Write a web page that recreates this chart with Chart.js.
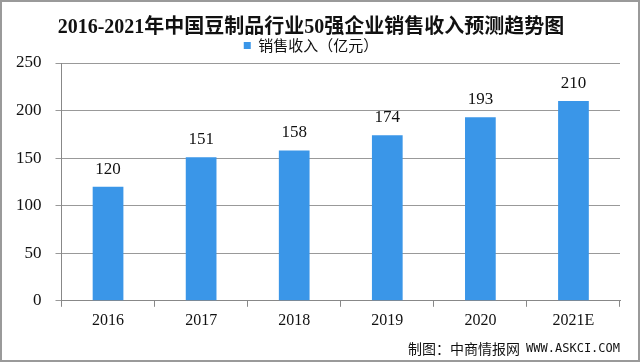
<!DOCTYPE html>
<html>
<head>
<meta charset="utf-8">
<script src="https://cdn.jsdelivr.net/npm/chart.js@4"></script>
<style>
  html, body { margin: 0; padding: 0; background: #fff; }
  #wrap { position: relative; width: 636px; height: 358px; border: 2px solid #9a9a9a; }
</style>
</head>
<body>
<div id="wrap"><canvas id="c" width="636" height="358"></canvas></div>
<script>
// 数据
const years = ["2016", "2017", "2018", "2019", "2020", "2021E"];
const revenue = [120, 151, 158, 174, 193, 210];
const yTicks = [0, 50, 100, 150, 200, 250];
const titleText = "2016-2021年中国豆制品行业50强企业销售收入预测趋势图";
const seriesName = "销售收入（亿元）";
const sourceText = "制图：中商情报网";
const sourceUrl = "WWW.ASKCI.COM";

const SERIF = "'Liberation Serif', 'Noto Sans CJK SC', serif";
const BLUE = "#3a96e8";

// 柱顶数值 + 右下角来源
const labelsPlg = {
  id: "labelsPlg",
  afterDatasetsDraw(ch) {
    const ctx = ch.ctx, meta = ch.getDatasetMeta(0);
    ctx.save();
    ctx.font = "17px " + SERIF; ctx.fillStyle = "#111";
    ctx.textAlign = "center"; ctx.textBaseline = "bottom";
    meta.data.forEach((b, i) => ctx.fillText(revenue[i], b.x, b.y - 9));
    ctx.textAlign = "right"; ctx.textBaseline = "middle";
    ctx.font = "12px 'DejaVu Sans Mono', monospace";
    const uw = ctx.measureText(sourceUrl).width;
    ctx.fillText(sourceUrl, 618, 347);
    ctx.font = "14px 'Noto Sans CJK SC', sans-serif";
    ctx.fillText(sourceText, 618 - uw - 6, 347);
    ctx.restore();
  }
};

new Chart(document.getElementById("c"), {
  type: "bar",
  data: { labels: years, datasets: [{ label: seriesName, data: revenue, backgroundColor: BLUE, barPercentage: 0.66, categoryPercentage: 0.5 }] },
  options: {
    responsive: false, animation: false,
    layout: { padding: { left: 0, right: 18, top: 0, bottom: 26 } },
    plugins: {
      title: { display: true, text: titleText, color: "#111", font: { family: SERIF, size: 20, weight: "bold" }, padding: { top: 14, bottom: -2 } },
      legend: { display: true, labels: { color: "#111", font: { family: "'Noto Sans CJK SC', sans-serif", size: 15 }, boxWidth: 7, boxHeight: 7, padding: 0 } },
      tooltip: { enabled: false }
    },
    scales: {
      x: {
        grid: { display: true, drawOnChartArea: false, drawTicks: true, tickLength: 6, color: "#888", offset: true },
        border: { color: "#888" },
        ticks: { color: "#111", font: { family: SERIF, size: 16 }, padding: 4 }
      },
      y: {
        min: 0, max: 250,
        afterBuildTicks: ax => { ax.ticks = yTicks.map(v => ({ value: v })); },
        grid: { color: "#999", tickLength: 6 },
        border: { color: "#888" },
        ticks: { color: "#111", font: { family: SERIF, size: 17 }, padding: 14 }
      }
    }
  },
  plugins: [labelsPlg]
});
</script>
</body>
</html>
